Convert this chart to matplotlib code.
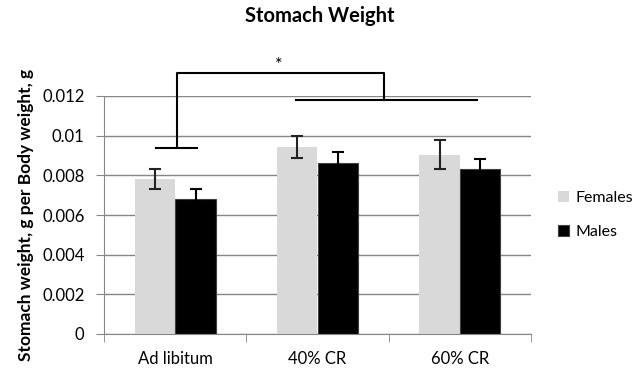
import matplotlib
matplotlib.use("Agg")
import matplotlib.pyplot as plt
import numpy as np

plt.rcParams['font.family'] = ['Lato', 'DejaVu Sans']

categories = ["Ad libitum", "40% CR", "60% CR"]
females = [0.00781, 0.00942, 0.00905]
females_err = [0.00052, 0.00056, 0.00072]
males = [0.00682, 0.00863, 0.00833]
males_err = [0.00050, 0.00057, 0.00047]
yticks = [0, 0.002, 0.004, 0.006, 0.008, 0.01, 0.012]
ytick_labels = ["0", "0.002", "0.004", "0.006", "0.008", "0.01", "0.012"]

fig = plt.figure(figsize=(6.4, 3.77), dpi=100)
ax = fig.add_axes([104/640, 1-334/377, (531-104)/640, (334-96)/377])

x = np.arange(len(categories))
w = 1/3.5
grid_c = '#868686'
ax.set_axisbelow(True)
ax.yaxis.grid(True, color=grid_c, linewidth=1)
ax.bar(x - w/2, females, w, color='#d9d9d9', label='Females', zorder=2)
ax.bar(x + w/2, males, w, color='black', edgecolor='#404040', linewidth=0.8, label='Males', zorder=2)
ax.errorbar(x - w/2, females, yerr=females_err, fmt='none', ecolor='#222222',
            elinewidth=1.5, capsize=4, capthick=1.5, zorder=3)
ax.errorbar(x + w/2, males, yerr=males_err, fmt='none', ecolor='black',
            elinewidth=1.5, capsize=4, capthick=1.5, zorder=3)

ax.set_xlim(-0.5, 2.5)
ax.set_ylim(0, 0.012)
ax.set_yticks(yticks)
ax.set_yticklabels(ytick_labels)
ax.set_xticks(x)
ax.set_xticklabels(categories)
ax.set_xticks([-0.5, 0.5, 1.5, 2.5], minor=True)
ax.tick_params(axis='x', which='major', length=0, pad=12, labelsize=12)
ax.tick_params(axis='x', which='minor', length=6, color=grid_c, direction='out')
ax.tick_params(axis='y', length=6, color=grid_c, labelsize=12, pad=8)
for s in ['top', 'right']:
    ax.spines[s].set_visible(False)
ax.spines['left'].set_color(grid_c)
ax.spines['bottom'].set_color(grid_c)

# significance brackets
lk = dict(color='black', linewidth=1.5, clip_on=False, zorder=4)
ax.plot([-0.132, 0.152], [0.0094, 0.0094], **lk)
ax.plot([0.01, 0.01, 1.47, 1.47], [0.0094, 0.01318, 0.01318, 0.01182], **lk)
ax.plot([0.848, 2.122], [0.01182, 0.01182], **lk)
ax.text(0.73, 0.01355, '*', ha='center', va='center', fontsize=13, clip_on=False)

ax.set_ylabel("Stomach weight, g per Body weight, g", fontsize=12.5, fontweight='bold', labelpad=6)
fig.text(0.5, 1-16/377, "Stomach Weight", ha='center', va='center', fontsize=14.5, fontweight='bold')

leg = ax.legend(loc='center left', bbox_to_anchor=(1.03, 0.50), frameon=False,
                fontsize=11.5, handlelength=0.7, handleheight=0.7, labelspacing=1.2, handletextpad=0.4)

fig.savefig("out.png", dpi=100)
